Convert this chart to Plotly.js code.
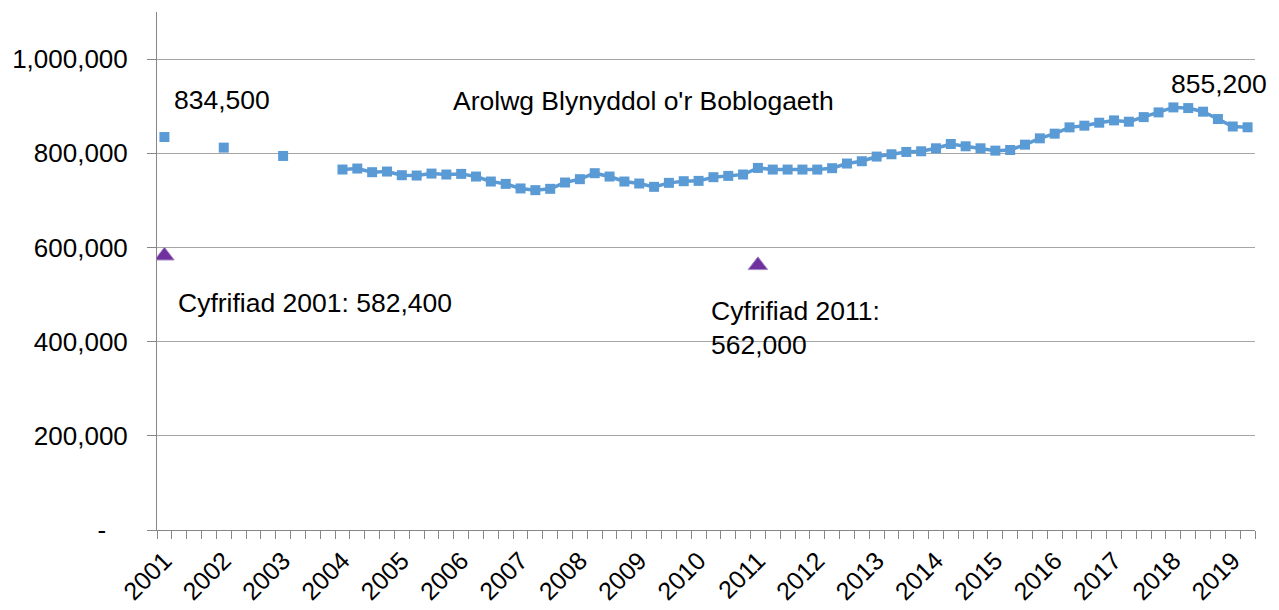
<!DOCTYPE html>
<html>
<head>
<meta charset="utf-8">
<script src="https://cdn.plot.ly/plotly-3.0.1.min.js"></script>
<style>
  html, body { margin: 0; padding: 0; background: #fff; }
  #chart { width: 1279px; height: 610px; }
</style>
</head>
<body>
<div id="chart"></div>
<script>
// ---- Data ----
const yearLabels = ['2001','2002','2003','2004','2005','2006','2007','2008','2009','2010',
                    '2011','2012','2013','2014','2015','2016','2017','2018','2019'];
const periodsPerYear = 4;

// Annual estimates 2001-2003 (one point per year)
const apsAnnualYears = ['2001', '2002', '2003'];
const apsAnnualValues = [834500, 812000, 794300];

// Quarterly rolling estimates starting 2004
const apsQuarterlyStartYear = '2004';
const apsQuarterlyValues = [
  765500, 767600, 759800, 761200, 753400, 752700, 756900, 754900, 756200, 750600,
  740000, 735000, 725300, 721700, 724500, 737900, 745000, 757700, 750600, 740000,
  735800, 728700, 737200, 740700, 741400, 749200, 752000, 754900, 768900, 765400,
  765400, 765400, 765400, 768300, 778200, 783100, 793000, 797900, 802800, 804200,
  810600, 819700, 814800, 810600, 805600, 807000, 818300, 831700, 841600, 855000,
  858600, 864900, 869800, 867000, 876800, 886800, 897400, 896000, 888300, 872700,
  856900, 855200
];

// Census values
const censusYears = ['2001', '2011'];
const censusValues = [582400, 562000];

const yTickValues = [0, 200000, 400000, 600000, 800000, 1000000];

// ---- Build series ----
const qStart = yearLabels.indexOf(apsQuarterlyStartYear) * periodsPerYear;
const nPeriods = qStart + apsQuarterlyValues.length;
const xIdx = [];
const apsY = [];
for (let i = 0; i < nPeriods; i++) { xIdx.push(i); apsY.push(null); }
apsAnnualYears.forEach((yr, k) => { apsY[yearLabels.indexOf(yr) * periodsPerYear] = apsAnnualValues[k]; });
apsQuarterlyValues.forEach((v, k) => { apsY[qStart + k] = v; });

const censusX = censusYears.map(yr => yearLabels.indexOf(yr) * periodsPerYear);

const labelTickVals = yearLabels.map((_, i) => i * periodsPerYear);
const boundaries = [];
for (let i = 0; i <= nPeriods; i++) boundaries.push(i - 0.5);

const fmt = v => v === 0 ? '-' : v.toLocaleString('en-US');
const yTickText = yTickValues.map(v => v === 0 ? '-\u00A0\u00A0\u00A0' : fmt(v));

const blue = '#5B9BD5';
const purple = '#7030A0';
const gridC = '#A6A6A6';
const axisC = '#868686';
const fontFam = 'Liberation Sans, Arial, sans-serif';
const xRange = [-0.5, nPeriods - 0.5];

const traces = [
  {
    x: xIdx, y: apsY, type: 'scatter', mode: 'lines+markers',
    connectgaps: false,
    line: { color: blue, width: 3.5 },
    marker: { symbol: 'square', color: blue, size: 10 },
    hoverinfo: 'y', showlegend: false
  },
  {
    x: censusX, y: censusValues, type: 'scatter', mode: 'markers',
    xaxis: 'x2',
    marker: { symbol: 'triangle-up', color: purple, size: 17, line: { color: '#A28BC0', width: 1 } },
    hoverinfo: 'y', showlegend: false
  }
];

const annFont = { family: fontFam, size: 26.5, color: '#000' };
const lastIdx = nPeriods - 1;
const annotations = [
  { x: 0.5, y: 914000, text: fmt(apsAnnualValues[0]), xanchor: 'left', yanchor: 'middle', showarrow: false, font: annFont },
  { x: 19.3, y: 910000, text: "Arolwg Blynyddol o'r Boblogaeth", xanchor: 'left', yanchor: 'middle', showarrow: false, font: annFont },
  { x: 67.7, y: 948000, text: fmt(apsY[lastIdx]), xanchor: 'left', yanchor: 'middle', showarrow: false, font: annFont },
  { x: 0.8, y: 482000, text: 'Cyfrifiad ' + censusYears[0] + ': ' + fmt(censusValues[0]), xanchor: 'left', yanchor: 'middle', showarrow: false, font: annFont },
  { x: 36.7, y: 430000, text: 'Cyfrifiad ' + censusYears[1] + ':<br>' + fmt(censusValues[1]), xanchor: 'left', yanchor: 'middle', align: 'left', showarrow: false, font: annFont }
];

const layout = {
  width: 1279, height: 610,
  margin: { l: 157, r: 24, t: 12, b: 80 },
  paper_bgcolor: '#fff', plot_bgcolor: '#fff',
  font: { family: fontFam, size: 26, color: '#000' },
  showlegend: false,
  xaxis: {
    type: 'linear', range: xRange,
    tickmode: 'array', tickvals: boundaries, ticktext: boundaries.map(() => ''),
    ticks: 'outside', ticklen: 8, tickcolor: axisC, tickwidth: 1,
    showgrid: false, zeroline: false,
    showline: true, linecolor: axisC, linewidth: 1
  },
  xaxis2: {
    type: 'linear', range: xRange, overlaying: 'x', side: 'bottom',
    tickmode: 'array', tickvals: labelTickVals, ticktext: yearLabels,
    tickangle: -45, ticks: '', showgrid: false, zeroline: false, showline: false,
    ticklabelstandoff: 10,
    tickfont: { family: fontFam, size: 25, color: '#000' }
  },
  yaxis: {
    range: [0, 1100000],
    tickmode: 'array', tickvals: yTickValues, ticktext: yTickText,
    ticks: 'outside', ticklen: 9, tickcolor: axisC, tickwidth: 1,
    showgrid: true, gridcolor: gridC, gridwidth: 1, zeroline: false,
    showline: true, linecolor: axisC, linewidth: 1,
    ticklabelstandoff: 14,
    tickfont: { family: fontFam, size: 26, color: '#000' }
  },
  annotations: annotations
};

Plotly.newPlot('chart', traces, layout, { displayModeBar: false, staticPlot: true });
</script>
</body>
</html>
